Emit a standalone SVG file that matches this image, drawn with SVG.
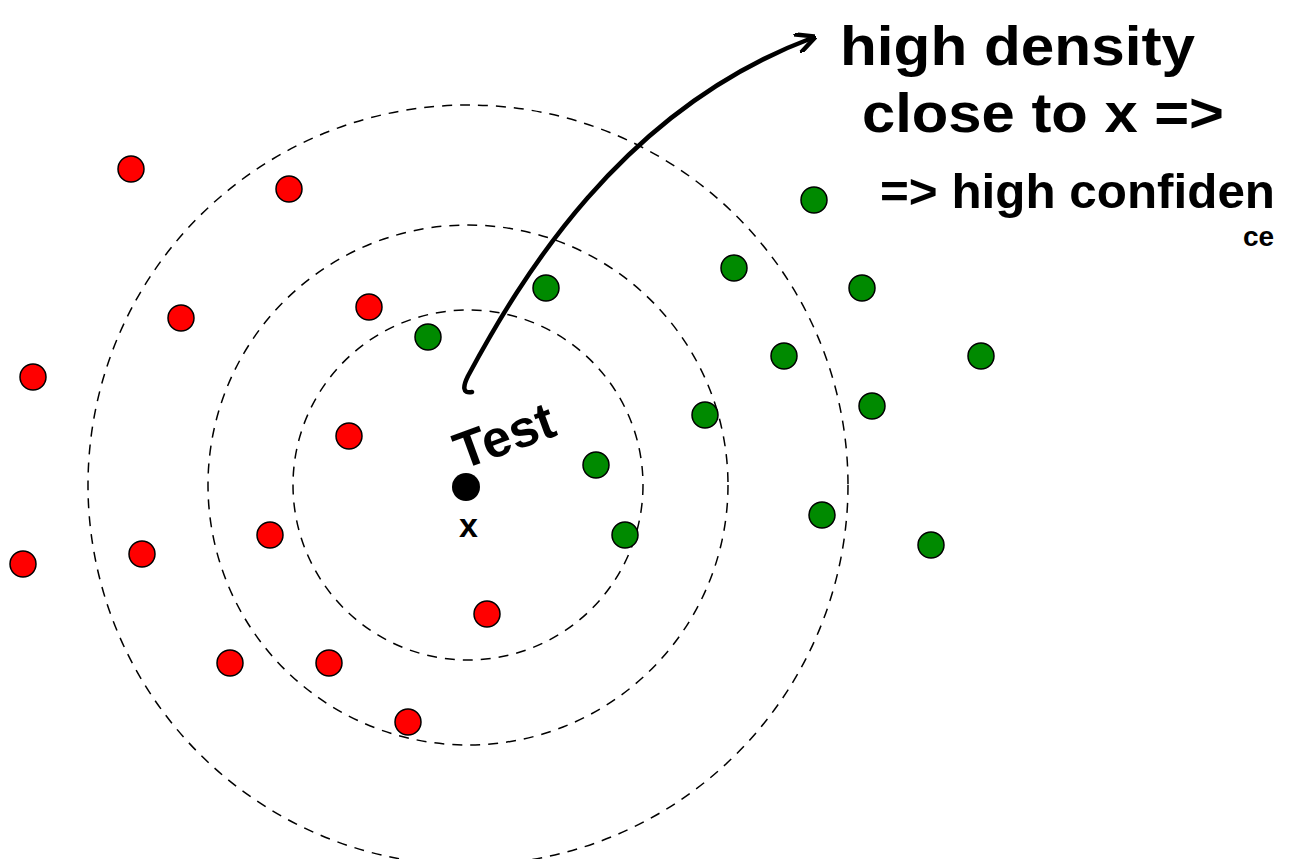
<svg xmlns="http://www.w3.org/2000/svg" width="1300" height="859" viewBox="0 0 1300 859">
<style>
.ring{fill:none;stroke:#000;stroke-width:1.5;stroke-dasharray:10 8}
.red{fill:#ff0000;stroke:#000;stroke-width:1.5}
.green{fill:#008a00;stroke:#000;stroke-width:1.5}
.hand{font-family:"Liberation Sans",Arial,sans-serif;font-weight:bold;fill:#000}
</style>
<defs>
<marker id="ah" viewBox="0 0 10 10" refX="8" refY="5" markerWidth="4.5" markerHeight="4.5" orient="auto" markerUnits="strokeWidth">
<path d="M0,0 L10,5 L0,10" fill="none" stroke="#000" stroke-width="2.2"/>
</marker>
</defs>
<rect width="1300" height="859" fill="#fff"/>
<g id="rings">
<circle class="ring" cx="468" cy="485" r="175"/>
<circle class="ring" cx="468" cy="485" r="260"/>
<circle class="ring" cx="468" cy="485" r="380"/>
</g>
<g id="red-points">
<circle class="red" cx="131" cy="169" r="13"/>
<circle class="red" cx="289" cy="189" r="13"/>
<circle class="red" cx="181" cy="318" r="13"/>
<circle class="red" cx="33" cy="377" r="13"/>
<circle class="red" cx="369" cy="307" r="13"/>
<circle class="red" cx="349" cy="436" r="13"/>
<circle class="red" cx="270" cy="535" r="13"/>
<circle class="red" cx="142" cy="554" r="13"/>
<circle class="red" cx="23" cy="564" r="13"/>
<circle class="red" cx="230" cy="663" r="13"/>
<circle class="red" cx="329" cy="663" r="13"/>
<circle class="red" cx="408" cy="722" r="13"/>
<circle class="red" cx="487" cy="614" r="13"/>
</g>
<g id="green-points">
<circle class="green" cx="814" cy="200" r="13"/>
<circle class="green" cx="734" cy="268" r="13"/>
<circle class="green" cx="546" cy="288" r="13"/>
<circle class="green" cx="862" cy="288" r="13"/>
<circle class="green" cx="428" cy="337" r="13"/>
<circle class="green" cx="784" cy="356" r="13"/>
<circle class="green" cx="981" cy="356" r="13"/>
<circle class="green" cx="705" cy="415" r="13"/>
<circle class="green" cx="872" cy="406" r="13"/>
<circle class="green" cx="596" cy="465" r="13"/>
<circle class="green" cx="625" cy="535" r="13"/>
<circle class="green" cx="822" cy="515" r="13"/>
<circle class="green" cx="931" cy="545" r="13"/>
</g>
<g id="test-point">
<circle cx="466" cy="487" r="14" fill="#000"/>
<text class="hand" x="462" y="470" font-size="52" transform="rotate(-20 462 470)">Test</text>
<text class="hand" x="459" y="537" font-size="34">x</text>
</g>
<g id="connectors">
<path d="M472,392 C462,394 463,386 468,376 C520,280 620,110 812,38" fill="none" stroke="#000" stroke-width="4.5" stroke-linecap="round" marker-end="url(#ah)"/>
</g>
<g id="note">
<text class="hand" x="840" y="65" font-size="56" textLength="355" lengthAdjust="spacingAndGlyphs">high density</text>
<text class="hand" x="862" y="132" font-size="56" textLength="362" lengthAdjust="spacingAndGlyphs">close to x =&gt;</text>
<text class="hand" x="880" y="208" font-size="48" textLength="395" lengthAdjust="spacingAndGlyphs">=&gt; high confiden</text>
<text class="hand" x="1243" y="246" font-size="28">ce</text>
</g>
</svg>
